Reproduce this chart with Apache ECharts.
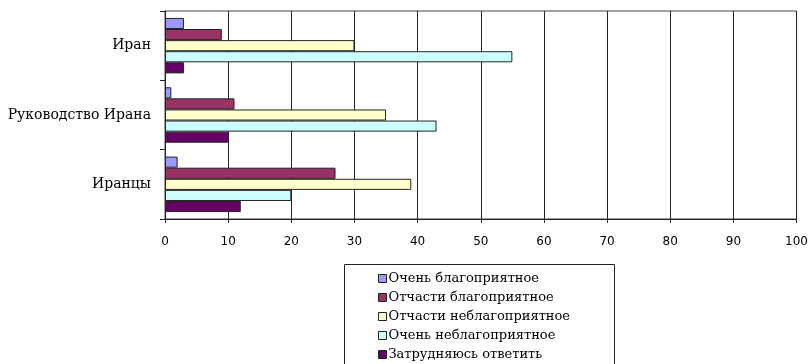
<!DOCTYPE html>
<html>
<head>
<meta charset="utf-8">
<script src="https://cdn.jsdelivr.net/npm/echarts@6/dist/echarts.min.js"></script>
<style>
  html, body { margin: 0; padding: 0; background: #fff; }
  #chart { width: 811px; height: 364px; }
</style>
</head>
<body>
<div id="chart"></div>
<script>
  // categories, top to bottom
  const categories = ['Иран', 'Руководство Ирана', 'Иранцы'];
  const seriesNames = [
    'Очень благоприятное',
    'Отчасти благоприятное',
    'Отчасти неблагоприятное',
    'Очень неблагоприятное',
    'Затрудняюсь ответить'
  ];
  const veryFavorable = [3, 1, 2];
  const somewhatFavorable = [9, 11, 27];
  const somewhatUnfavorable = [30, 35, 39];
  const veryUnfavorable = [55, 43, 20];
  const hardToSay = [3, 10, 12];
  const colors = ['#9999FF', '#993366', '#FFFFCC', '#CCFFFF', '#660066'];

  const values = [veryFavorable, somewhatFavorable, somewhatUnfavorable, veryUnfavorable, hardToSay];

  const myChart = echarts.init(document.getElementById('chart'));

  const option = {
    animation: false,
    grid: {
      left: 165, right: 14, top: 11, bottom: 145,
      show: true,
      borderColor: '#444',
      borderWidth: 1
    },
    xAxis: {
      type: 'value',
      min: 0,
      max: 100,
      interval: 10,
      axisLine: { show: true, lineStyle: { color: '#222', width: 1 } },
      axisTick: { show: true, inside: false, length: 4, lineStyle: { color: '#222' } },
      axisLabel: { color: '#000', fontFamily: 'DejaVu Sans', fontSize: 12, margin: 17 },
      splitLine: { show: true, lineStyle: { color: '#222', width: 1 } }
    },
    yAxis: {
      type: 'category',
      inverse: true,
      data: categories,
      axisLine: { show: true, lineStyle: { color: '#222', width: 1 } },
      axisTick: { show: true, length: 5, lineStyle: { color: '#222' } },
      axisLabel: { color: '#000', fontFamily: 'DejaVu Serif', fontSize: 14, margin: 14 }
    },
    legend: {
      orient: 'vertical',
      left: 373,
      top: 267,
      height: 140,
      itemWidth: 8,
      itemHeight: 8,
      itemGap: 6,
      icon: 'rect',
      textStyle: { color: '#000', fontFamily: 'DejaVu Serif', fontSize: 13, padding: [0, 0, 0, -3] },
      itemStyle: { borderColor: '#222', borderWidth: 1 },
      data: seriesNames
    },
    graphic: [{
      type: 'rect',
      left: 342,
      top: 262,
      shape: { width: 270, height: 110 },
      style: { fill: 'none', stroke: '#222', lineWidth: 1 },
      silent: true
    }],
    series: seriesNames.map((name, i) => ({
      name: name,
      type: 'bar',
      data: values[i],
      barGap: '0%',
      barCategoryGap: '20%',
      itemStyle: { color: colors[i], borderColor: '#222', borderWidth: 1 }
    }))
  };

  myChart.setOption(option);
</script>
</body>
</html>
